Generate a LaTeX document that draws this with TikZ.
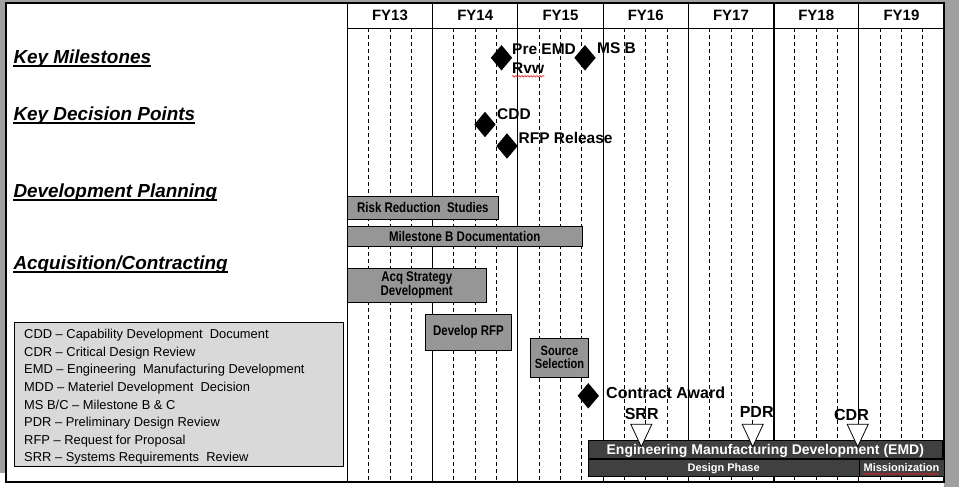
\documentclass[tikz,border=0pt]{standalone}
\usepackage{fontspec}
\setmainfont{Liberation Sans}
\newfontfamily\narrowfont{Liberation Sans}[FakeStretch=0.82]
\usetikzlibrary{shapes.geometric,decorations.pathmorphing}
\definecolor{edgegray}{RGB}{160,160,160}
\definecolor{barfill}{RGB}{150,150,150}
\definecolor{darkfill}{RGB}{64,64,64}
\definecolor{legfill}{RGB}{217,217,217}
\definecolor{squig}{RGB}{225,30,30}
\begin{document}
\begin{tikzpicture}[x=1pt,y=-1pt,
  yearline/.style={line width=0.9pt},
  qline/.style={line width=0.8pt,dash pattern=on 4pt off 3pt},
  heading/.style={inner sep=0,anchor=base west,font=\fontsize{18.9}{20}\selectfont\bfseries\itshape},
  uline/.style={line width=1.8pt},
  fy/.style={inner sep=0,anchor=base,font=\fontsize{15}{17}\selectfont\bfseries},
  lbl/.style={inner sep=0,anchor=base west,font=\fontsize{15.5}{18}\selectfont\bfseries},
  rev/.style={inner sep=0,anchor=base,font=\fontsize{16}{18}\selectfont\bfseries},
  legtxt/.style={inner sep=0,anchor=base west,font=\fontsize{12.9}{14}\selectfont},
  legbox/.style={draw=black,fill=legfill,line width=0.9pt,inner sep=0},
  bar/.style={draw=black,fill=barfill,line width=0.9pt,inner sep=0,align=center,
    font=\narrowfont\fontsize{14}{14}\selectfont\bfseries},
  dbar/.style={draw=black,fill=darkfill,line width=0.9pt,inner sep=0,text=white,text depth=0pt},
  msd/.style={diamond,fill=black,inner sep=0,minimum width=21.5pt,minimum height=25.6pt},
  tri/.style={draw=black,fill=white,line width=0.8pt,line join=miter},
  squiggle/.style={draw=squig,line width=0.6pt,decorate,decoration={snake,segment length=3pt,amplitude=0.8pt}}
]
\useasboundingbox (0,0) rectangle (959,487);
% window background
\fill[edgegray] (0,0) rectangle (959,487);
\fill[white] (6,3) rectangle (944,487);
\fill[white] (0,473) rectangle (6,487);

% quarter lines
\foreach \k in {0,...,6}{
  \foreach \j in {1,2,3}{
    \pgfmathsetmacro\xx{347.3+85.25*\k+21.31*\j}
    \draw[qline] (\xx,28) -- (\xx,482);
  }
}
% year lines
\foreach \k in {0,...,7}{
  \pgfmathsetmacro\xx{347.3+85.25*\k}
  \draw[yearline] (\xx,3) -- (\xx,482);
}
\draw[line width=2pt] (773.55,3) -- (773.55,482);
\draw[yearline] (347.3,28) -- (944,28);
% outer frame
\draw[line width=1.2pt] (6,3) rectangle (944,482);

% year headers
\foreach \k/\t in {0/FY13,1/FY14,2/FY15,3/FY16,4/FY17,5/FY18,6/FY19}{
  \node[fy] (fy\k) at ({347.3+85.25*\k+42.625},20.7) {\t};
}

% row headings
\node[heading] (h1) at (13.3,63.3) {Key Milestones};
\node[heading] (h2) at (13.3,120.7) {Key Decision Points};
\node[heading] (h3) at (13.3,197) {Development Planning};
\node[heading] (h4) at (13.3,269.3) {Acquisition/Contracting};
\foreach \h in {h1,h2,h3,h4}{
  \draw[uline] ([yshift=-2.6pt]\h.base west) -- ([yshift=-2.6pt]\h.base east);
}

% legend
\node[legbox,minimum width=328.8pt,minimum height=144pt] (legend) at (178.9,394) {};
\foreach \i/\t in {0/{CDD -- Capability Development\ \ Document},
                   1/{CDR -- Critical Design Review},
                   2/{EMD -- Engineering\ \ Manufacturing Development},
                   3/{MDD -- Materiel Development\ \ Decision},
                   4/{MS B/C -- Milestone B \& C},
                   5/{PDR -- Preliminary Design Review},
                   6/{RFP -- Request for Proposal},
                   7/{SRR -- Systems Requirements\ \ Review}}{
  \node[legtxt] (leg\i) at (24,{338.7+17.6*\i}) {\t};
}

% planning / acquisition bars
\node[bar,minimum width=151.7pt,minimum height=23.3pt] (risk) at (422.85,207.65) {Risk Reduction\ \ Studies};
\node[bar,minimum width=235.4pt,minimum height=20.7pt] (msbdoc) at (464.7,236.35) {Milestone B Documentation};
\node[bar,minimum width=139.5pt,minimum height=34pt] (acq) at (416.75,285.3) {Acq Strategy\\Development};
\node[bar,minimum width=86.4pt,minimum height=35.7pt] (devrfp) at (468.5,332.15) {Develop RFP};
\node[bar,minimum width=58.4pt,minimum height=39pt,font=\narrowfont\fontsize{13.5}{13}\selectfont\bfseries] (source) at (559.5,357.8) {Source\\Selection};

% milestones / decision points
\node[msd] (preemd) at (501.5,57.8) {};
\node[lbl] (preemdl) at (512,55) {Pre EMD};
\node[lbl] (rvwl) at (512,74) {Rvw};
\draw[squiggle] ([yshift=-2.3pt]rvwl.base west) -- ([yshift=-2.3pt]rvwl.base east);
\node[msd] (msb) at (585,57.8) {};
\node[lbl] (msbl) at (597,53.3) {MS B};
\node[msd] (cdd) at (485,124.5) {};
\node[lbl] (cddl) at (497,120) {CDD};
\node[msd] (rfp) at (507,146) {};
\node[lbl] (rfpl) at (518.5,143) {RFP Release};
\node[msd] (ca) at (588.3,395.8) {};
\node[lbl,font=\fontsize{16}{18}\selectfont\bfseries] (cal) at (606,398.5) {Contract Award};

% EMD bars
\node[dbar,minimum width=354pt,minimum height=18pt,text height=10pt,font=\fontsize{14}{14}\selectfont\bfseries] (emd) at (765.3,449.3) {Engineering Manufacturing Development (EMD)};
\node[dbar,minimum width=270.7pt,minimum height=16.7pt,text height=7.9pt,font=\fontsize{11}{11}\selectfont\bfseries] (design) at (723.65,467.65) {Design Phase};
\node[dbar,minimum width=85pt,minimum height=16.7pt,text height=7.9pt,font=\fontsize{11}{11}\selectfont\bfseries] (mission) at (901.5,467.65) {Missionization};
\node[inner sep=0,anchor=base,font=\fontsize{11}{11}\selectfont\bfseries,text=white] (missiontxt) at (901.3,471.6) {\phantom{Missionization}};
\draw[squiggle] ([yshift=-2.3pt]missiontxt.base west) -- ([yshift=-2.3pt]missiontxt.base east);

% reviews
\coordinate (srrtip) at (641.3,446.7);
\coordinate (pdrtip) at (752.7,446.7);
\coordinate (cdrtip) at (857.7,446.7);
\foreach \c in {srrtip,pdrtip,cdrtip}{
  \draw[tri] (\c) -- ++(-10.5,-22.4) -- ++(21,0) -- cycle;
}
\node[rev] (srrl) at (641.7,419) {SRR};
\node[rev] (pdrl) at (756.7,417.5) {PDR};
\node[rev] (cdrl) at (851.5,420) {CDR};
\end{tikzpicture}
\end{document}
